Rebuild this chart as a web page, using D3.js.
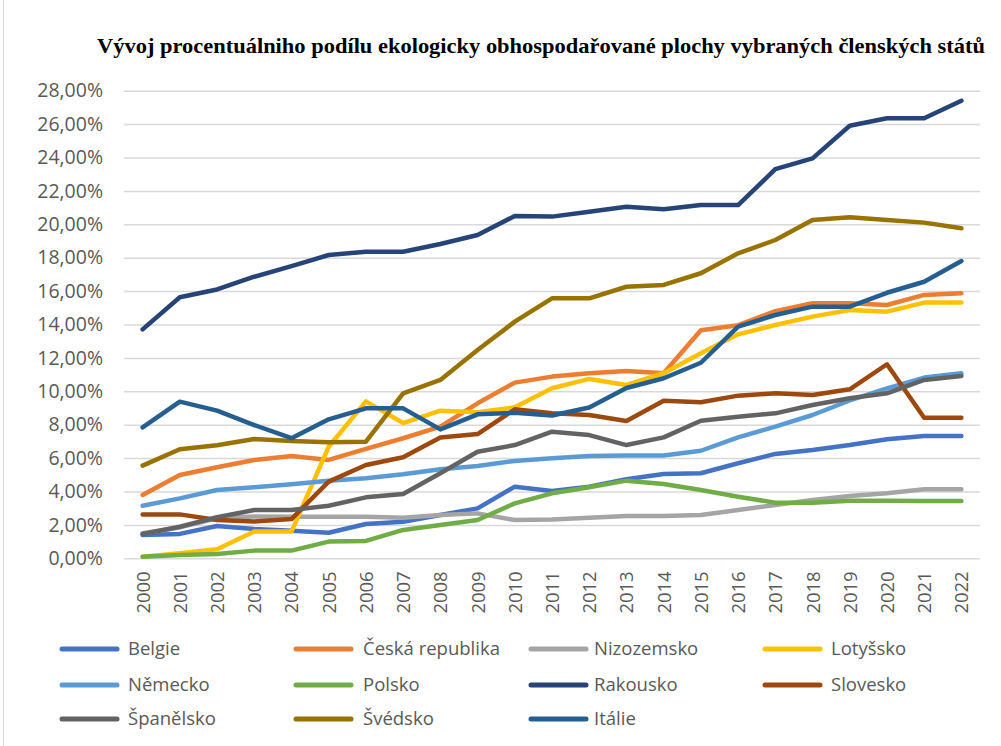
<!DOCTYPE html>
<html>
<head>
<meta charset="utf-8">
<script src="https://cdn.jsdelivr.net/npm/d3@7"></script>
<style>
  html, body { margin: 0; padding: 0; background: #fff; }
  svg { display: block; }
</style>
</head>
<body>
<svg id="chart" width="1001" height="746"></svg>
<script>
// years on the x axis
const years = d3.range(2000, 2023).map(String);

// series values in percent
const belgie = [1.4, 1.46, 1.93, 1.75, 1.65, 1.53, 2.05, 2.19, 2.59, 2.99, 4.29, 4.03, 4.29, 4.73, 5.05, 5.09, 5.69, 6.25, 6.49, 6.78, 7.13, 7.32, 7.32];
const ceska = [3.79, 4.99, 5.45, 5.89, 6.13, 5.89, 6.55, 7.19, 7.88, 9.28, 10.52, 10.88, 11.08, 11.22, 11.08, 13.66, 13.96, 14.8, 15.27, 15.27, 15.17, 15.77, 15.87];
const nizozemsko = [1.5, 1.85, 2.4, 2.5, 2.49, 2.49, 2.49, 2.43, 2.59, 2.69, 2.29, 2.33, 2.43, 2.53, 2.53, 2.59, 2.89, 3.19, 3.49, 3.73, 3.89, 4.13, 4.13];
const lotyssko = [0.1, 0.3, 0.54, 1.6, 1.6, 6.68, 9.4, 8.1, 8.84, 8.74, 9.04, 10.18, 10.74, 10.38, 11.08, 12.28, 13.41, 13.97, 14.47, 14.87, 14.77, 15.31, 15.31];
const nemecko = [3.15, 3.59, 4.09, 4.25, 4.43, 4.65, 4.79, 5.03, 5.33, 5.53, 5.83, 5.99, 6.13, 6.15, 6.15, 6.44, 7.24, 7.88, 8.58, 9.45, 10.18, 10.82, 11.08];
const polsko = [0.1, 0.2, 0.26, 0.46, 0.46, 1.0, 1.04, 1.7, 1.99, 2.29, 3.29, 3.89, 4.25, 4.65, 4.45, 4.09, 3.69, 3.33, 3.33, 3.45, 3.45, 3.43, 3.43];
const rakousko = [13.71, 15.63, 16.1, 16.86, 17.5, 18.16, 18.36, 18.36, 18.82, 19.36, 20.5, 20.46, 20.75, 21.05, 20.9, 21.15, 21.15, 23.3, 23.95, 25.9, 26.35, 26.35, 27.4];
const slovesko = [2.63, 2.63, 2.29, 2.2, 2.35, 4.59, 5.59, 6.05, 7.24, 7.44, 8.92, 8.68, 8.58, 8.22, 9.44, 9.34, 9.74, 9.88, 9.78, 10.12, 11.62, 8.42, 8.42];
const spanelsko = [1.46, 1.89, 2.46, 2.89, 2.89, 3.15, 3.65, 3.85, 5.09, 6.38, 6.78, 7.58, 7.38, 6.78, 7.24, 8.24, 8.48, 8.68, 9.18, 9.58, 9.88, 10.68, 10.92];
const svedsko = [5.55, 6.53, 6.77, 7.14, 7.02, 6.95, 6.98, 9.88, 10.68, 12.47, 14.17, 15.57, 15.57, 16.26, 16.37, 17.07, 18.26, 19.06, 20.26, 20.42, 20.26, 20.1, 19.76];
const italie = [7.84, 9.38, 8.84, 7.98, 7.19, 8.32, 8.98, 8.98, 7.72, 8.62, 8.72, 8.55, 9.03, 10.2, 10.78, 11.71, 13.87, 14.57, 15.07, 15.07, 15.9, 16.56, 17.8];

const names = ['Belgie', 'Česká republika', 'Nizozemsko', 'Lotyšsko', 'Německo', 'Polsko',
  'Rakousko', 'Slovesko', 'Španělsko', 'Švédsko', 'Itálie'];
const values = [belgie, ceska, nizozemsko, lotyssko, nemecko, polsko,
  rakousko, slovesko, spanelsko, svedsko, italie];
const colors = ['#4472c4', '#ed7d31', '#a5a5a5', '#ffc000', '#5b9bd5', '#70ad47',
  '#264478', '#9e480e', '#636363', '#997300', '#255e91'];
const yTicks = d3.range(0, 29, 2);

const title = 'Vývoj procentuálniho podílu ekologicky obhospodařované plochy vybraných členských států';

const series = names.map((n, i) => ({ name: n, color: colors[i], values: values[i] }));

const svg = d3.select('#chart');
const plotLeft = 124;
const plotRight = 980;
const plotTop = 90.7;
const plotBottom = 558.3;

const x = d3.scalePoint().domain(years).range([plotLeft, plotRight]).padding(0.5);
const y = d3.scaleLinear().domain([0, 28]).range([plotBottom, plotTop]);

// faint frame line on the left edge
svg.append('line')
  .attr('x1', 3.5).attr('x2', 3.5)
  .attr('y1', 0).attr('y2', 746)
  .attr('stroke', '#d9d9d9')
  .attr('stroke-width', 1);

svg.append('text')
  .attr('x', 97)
  .attr('y', 53)
  .attr('font-family', '"Liberation Serif", "Times New Roman", serif')
  .attr('font-weight', 'bold')
  .attr('font-size', 21)
  .attr('fill', '#000')
  .attr('textLength', 888)
  .attr('lengthAdjust', 'spacingAndGlyphs')
  .text(title);

// gridlines + y labels
const yAxis = d3.axisLeft(y)
  .tickValues(yTicks)
  .tickSize(-(plotRight - plotLeft))
  .tickPadding(21)
  .tickFormat(d => `${d.toFixed(2).replace('.', ',')}%`);

const gy = svg.append('g')
  .attr('transform', `translate(${plotLeft},0)`)
  .call(yAxis);
gy.select('.domain').remove();
gy.selectAll('.tick line')
  .attr('stroke', '#d9d9d9')
  .attr('stroke-width', 1.5);
gy.selectAll('.tick text')
  .attr('font-family', '"Open Sans", sans-serif')
  .attr('font-size', 19.5)
  .attr('fill', '#595959');

// x labels, rotated
const xAxis = d3.axisBottom(x).tickSize(0).tickPadding(0);
const gx = svg.append('g')
  .attr('transform', `translate(0,${plotBottom})`)
  .call(xAxis);
gx.select('.domain').remove();
gx.selectAll('.tick text')
  .attr('font-family', '"Open Sans", sans-serif')
  .attr('font-size', 18.5)
  .attr('fill', '#595959')
  .attr('text-anchor', 'end')
  .attr('y', 0)
  .attr('dy', '0.35em')
  .attr('transform', 'translate(0,13) rotate(-90)');

// lines
const line = d3.line()
  .x((d, i) => x(years[i]))
  .y(d => y(d));

svg.append('g')
  .selectAll('path')
  .data(series)
  .enter()
  .append('path')
  .attr('d', d => line(d.values))
  .attr('fill', 'none')
  .attr('stroke', d => d.color)
  .attr('stroke-width', 4.5)
  .attr('stroke-linejoin', 'round')
  .attr('stroke-linecap', 'round');

// legend: 4 columns, 3 rows (row-major)
const colSwatch = [62, 296, 531, 765];
const colText = [128, 363, 594, 831];
const rowY = [649, 685, 719];

const legend = svg.append('g')
  .selectAll('g')
  .data(series)
  .enter()
  .append('g')
  .attr('transform', (d, i) => `translate(0,${rowY[Math.floor(i / 4)]})`);

legend.append('line')
  .attr('x1', (d, i) => colSwatch[i % 4])
  .attr('x2', (d, i) => colSwatch[i % 4] + 55)
  .attr('y1', 0).attr('y2', 0)
  .attr('stroke', d => d.color)
  .attr('stroke-width', 5)
  .attr('stroke-linecap', 'round');

legend.append('text')
  .attr('x', (d, i) => colText[i % 4])
  .attr('y', 0)
  .attr('dy', '0.35em')
  .attr('font-family', '"Open Sans", sans-serif')
  .attr('font-size', 18.5)
  .attr('fill', '#595959')
  .text(d => d.name);
</script>
</body>
</html>
